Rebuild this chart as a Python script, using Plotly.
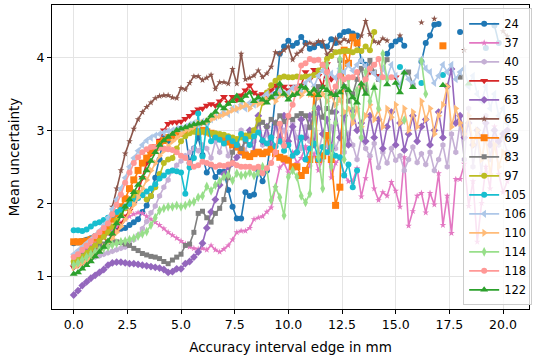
import plotly.graph_objects as go

N = 102
x_edges = [round(0.2 * i, 1) for i in range(N)]

s24 = [1.45,1.46,1.48,1.5,1.52, 1.55,1.57,1.6,1.6,1.62, 1.63,1.65,1.66,1.7,1.74, 1.78,1.88,1.97,2.1,2.35,
       2.6,2.89,2.85,2.9,2.95, 3.02,2.96,2.55,2.75,2.9, 2.66,2.42,2.52,2.36,2.43, 2.43,2.18,1.95,1.79,1.79,
       2.15,2.1,2.12,2.45,2.3, 2.45,2.9,3.5,4.05,4.15, 4.23,4.16,4.2,4.28,4.2, 4.12,4.14,4.2,4.16,4.15,
       4.25,4.2,4.3,4.35,4.36, 4.33,4.3,3.95,3.9,None, None,None,None,4.05,4.16, 4.22,4.25,4.16,None,None,
       None,3.94,4.2,4.3,4.45, 4.46,None,None,None,None, 4.35,None,None,None,None, None,4.13,None,4.44,4.2,
       None,None]
s37 = [1.25,1.29,1.33,1.37,1.41, 1.45,1.49,1.53,1.58,1.63, 1.68,1.73,1.78,1.82,1.85, 1.87,1.86,1.82,1.78,1.74,
       1.7,1.65,1.6,1.56,1.52, 1.48,1.44,1.4,1.38,1.37, 1.38,1.36,1.42,1.36,1.33, 1.37,1.42,1.5,1.6,1.62,
       1.62,1.66,1.78,1.8,1.82, 1.88,1.94,2.22,2.49,2.55, 2.42,2.7,2.55,2.62,2.78, 2.5,2.68,2.45,2.6,2.85,
       2.35,2.55,2.62,2.4,2.3, 2.3,2.48,2.09,2.34,2.63, 2.2,2.04,2.15,2.1,2.29, 2.17,1.95,2.63,1.69,1.89,
       2.1,2.14,1.87,2.14,1.98, 2.41,1.7,2.1,1.59,2.33, 2.33,2.54,1.96,2.3,1.47, 2.0,2.5,2.2,3.05,2.4,
       2.15,2.3]
s40 = [1.12,1.15,1.18,1.21,1.24, 1.26,1.28,1.3,1.32,1.34, 1.36,1.38,1.4,1.45,1.5, 1.56,1.65,1.75,1.87,1.96,
       2.1,2.22,2.32,2.45,2.52, 2.58,2.65,2.7,2.75,2.72, 2.8,2.75,2.62,2.85,2.7, 2.9,2.65,2.87,2.8,3.0,
       2.7,2.95,2.85,3.1,2.8, 2.95,2.75,3.05,2.85,3.0, 2.8,3.1,2.9,2.75,3.05, 2.85,3.0,2.7,2.95,2.8,
       3.05,2.75,2.9,2.7,2.95, 2.8,2.6,2.9,2.75,2.65, 2.82,2.49,2.7,2.55,2.75, 2.59,2.65,2.45,2.6,2.77,
       2.56,2.68,2.53,2.7,2.45, 2.6,2.8,2.5,2.95,2.7, 3.1,2.6,3.3,2.5,2.9, 2.4,3.2,2.6,3.0,2.8,
       2.9,2.7]
s55 = [1.12,1.15,1.18,1.22,1.27, 1.32,1.37,1.42,1.48,1.55, 1.62,1.72,1.82,1.9,2.0, 2.15,2.35,2.55,2.68,2.78,
       2.86,3.0,3.09,3.11,3.11, 3.12,3.16,3.2,3.25,3.29, 3.3,3.34,3.36,3.34,3.4, 3.46,3.38,3.46,3.42,3.48,
       3.55,3.62,3.52,3.48,3.5, 3.48,3.55,3.62,3.58,3.6, 3.55,3.6,3.58,3.62,3.8, 3.7,3.83,3.75,3.6,3.91,
       3.7,None,None,None,None, None,None,None,None,3.8, None,3.75,None,None,None, 3.73]
s63 = [0.74,0.8,0.87,0.92,0.97, 1.01,1.05,1.09,1.15,1.18, 1.19,1.19,1.18,1.17,1.17, 1.16,1.15,1.14,1.13,1.12,
       1.11,1.09,1.05,1.06,1.1, 1.1,1.17,1.2,1.26,1.33, 1.45,1.66,1.88,2.05,2.25, 2.4,2.5,2.55,2.63,2.7,
       2.9,3.0,2.7,3.2,2.85, 3.05,2.75,3.1,2.9,3.2, 2.85,3.05,2.7,3.15,2.9, 3.2,2.8,3.3,2.95,3.15,
       2.75,3.25,2.9,3.2,2.8, 3.27,3.0,3.1,2.85,3.2, 2.9,3.15,2.75,3.05,3.25, 2.8,3.1,2.73,2.95,3.2,
       2.85,3.05,3.15,2.8,3.0, 3.25,2.9,3.6,3.84,3.1, 3.2,2.9,3.1,2.8,3.0, 2.9,3.1,2.8,3.0,2.85,
       2.95,3.0]
s65 = [1.15,1.18,1.22,1.27,1.32, 1.38,1.45,1.55,1.7,1.95, 2.2,2.45,2.68,2.85,3.02, 3.15,3.25,3.32,3.38,3.44,
       3.47,3.48,3.48,3.45,3.44, 3.58,3.56,3.65,3.74,3.74, 3.69,3.72,3.76,3.57,3.66, 3.66,3.64,3.84,3.64,4.05,
       3.7,3.72,3.75,3.82,3.73, 3.78,3.87,4.07,4.05,4.1, 4.15,3.97,4.05,4.09,4.18, 4.2,4.18,4.22,4.22,4.04,
       4.1,4.26,4.2,4.25,4.22, 4.25,4.18,4.3,4.5,4.32, 4.22,4.2,4.26,4.23,None, None,4.3,None,None,None,
       None,4.48,None,None,4.53, None,None,None,None,None, None,4.1,None,None,None, None,None,None,None,None,
       4.36,4.29]
s69 = [1.47,1.47,1.47,1.48,1.5, 1.52,1.56,1.6,1.68,1.78, 1.85,1.95,2.06,2.2,2.32, 2.45,2.55,2.62,2.7,2.76,
       2.82,2.86,2.9,2.92,2.95, 2.96,2.98,3.0,3.0,2.98, 3.0,2.98,2.96,2.92,2.91, 2.88,2.84,2.8,2.77,2.72,
       2.66,2.64,2.68,2.7,2.68, 2.7,2.74,2.68,2.63,2.61, 2.59,2.5,2.5,2.38,2.45, 2.6,3.5,2.6,2.65,2.93,
       2.6,1.97,2.22,4.1,3.92, 4.28,4.2,None,None,None, None,None,None,None,None, None,None,None,None,None,
       None,None,None,None,None, None,4.16]
s83 = [1.17,1.22,1.28,1.33,1.38, 1.41,1.43,1.44,1.46,1.47, 1.47,1.46,1.44,1.42,1.38, 1.35,1.31,1.29,1.27,1.26,
       1.24,1.2,1.17,1.22,1.26, 1.3,1.42,1.44,1.6,1.86, 1.89,1.8,1.74,1.86,1.93, 2.05,2.35,2.7,2.86,2.75,
       2.85,2.95,3.0,3.09,3.11, 3.05,3.15,3.1,3.2,3.12, 3.18,3.15,3.2,3.23,3.2, 3.04,3.23,3.6,3.18,3.3,
       3.25,3.5,3.96,3.6,3.4, 3.5,3.7,3.85,3.55,3.96, 3.8,3.7,3.85,3.97,None, None,None,None,3.8,3.62,
       None,None,None,None,None, None,None,None,None,None, 3.73]
s97 = [1.2,1.23,1.27,1.32,1.37, 1.42,1.48,1.54,1.6,1.68, 1.76,1.85,1.93,2.02,2.1, 2.14,2.12,2.05,2.1,2.22,
       2.4,2.55,2.6,2.62,2.75, 2.85,2.92,2.96,2.98,2.98, 2.98,2.97,2.96,2.96,2.95, 2.94,2.92,2.9,2.88,2.9,
       2.93,2.92,3.0,3.15,3.38, 3.52,3.62,3.68,3.72,3.74, 3.73,3.73,3.74,3.73,3.74, 3.74,3.76,3.82,3.9,3.98,
       4.02,4.07,4.08,4.09,4.09, 4.07,4.1,4.09,4.15,4.1, 4.35]
s105 = [1.63,1.63,1.62,1.64,1.68, 1.72,1.74,1.77,1.8,1.84, 1.88,1.91,1.95,1.99,2.03, 2.07,2.11,2.16,2.2,2.26,
        2.34,2.38,2.43,2.45,2.44, 2.42,2.13,2.49,2.62,3.23, 2.64,3.1,2.85,2.9,2.87, 2.82,2.9,2.85,2.8,2.95,
        2.88,2.8,2.92,2.97,2.86, 2.82,2.9,2.78,2.85,2.72, 2.8,2.65,2.7,2.9,2.6, 2.75,2.82,2.6,2.77,2.7,
        2.77,2.65,2.63,2.38,2.53, 2.22,2.45,None,None,None, None,None,None,None,None, None,3.87,None,None,None,
        None,3.65,None,None,None, None,3.76]
s106 = [1.3,1.35,1.4,1.45,1.5, 1.56,1.62,1.7,1.8,1.92, 2.05,2.2,2.35,2.5,2.62, 2.72,2.8,2.86,2.9,2.93,
        2.95,2.97,2.99,3.0,3.02, 3.02,3.05,3.08,3.1,3.08, 3.12,3.1,3.15,3.18,3.2, 3.25,3.22,3.3,3.28,3.35,
        3.3,3.38,3.35,3.42,3.45, 3.5,3.48,3.45,3.55,3.5, 3.52,3.58,3.6,3.55,3.65, 3.7,3.6,3.75,3.82,3.7,
        3.78,3.72,3.85,3.8,3.9, 3.82,3.9,3.96,3.88,3.83, 3.78,3.7,3.85,3.72,3.9, 3.75,3.62,3.8,3.7,3.65,
        3.75,3.98,3.85,3.8,3.65, 3.75,3.9,3.8,3.9,3.7, 3.8,3.85,3.6,3.75,3.5, 3.4,3.6,3.3,3.5,3.2,
        3.3,3.1]
s110 = [1.12,1.15,1.18,1.22,1.26, 1.3,1.35,1.4,1.46,1.52, 1.6,1.68,1.78,1.88,1.98, 2.08,2.2,2.32,2.45,2.55,
        2.65,2.72,2.78,2.85,2.9, 2.95,3.0,3.02,3.05,3.1, 3.1,3.12,3.15,3.18,3.2, 3.22,3.25,3.28,3.3,3.32,
        3.35,3.3,3.38,3.36,3.4, 3.42,3.45,3.4,3.48,3.5, 3.45,3.5,3.52,3.48,3.55, 3.5,3.55,3.45,3.5,3.4,
        3.48,3.35,3.42,3.25,3.3, 3.1,3.3,3.05,3.2,3.35, 3.15,3.28,3.05,3.3,3.18, 3.35,3.1,3.3,3.0,3.25,
        3.05,3.4,3.15,3.3,2.95, 3.2,3.35,3.6,3.05,3.3, 3.1,2.95,3.2,2.8,3.0, 2.6,2.9,2.4,2.8,2.5,
        2.7,2.6]
s114 = [1.15,1.18,1.22,1.26,1.3, 1.33,1.36,1.38,1.4,1.43, 1.45,1.47,1.48,1.5,1.52, 1.55,1.58,1.61,1.7,1.8,
        1.9,1.93,1.95,1.95,1.97, 1.95,1.97,2.0,2.02,2.08, 2.1,2.23,2.17,2.25,2.3, 2.36,2.39,2.31,2.41,2.38,
        2.39,2.42,2.38,2.42,2.5, 2.47,2.04,2.22,2.08,1.83, 2.36,2.45,2.36,2.1,2.01, 2.13,3.3,2.63,2.2,3.9,
        2.5,3.1,3.98,2.6,3.7, 3.2,3.55,2.9,3.8,3.4, 3.6,3.3,4.05,3.7,None, None,None,3.14,None,None,
        None,3.95,3.5]
s118 = [1.26,1.3,1.36,1.42,1.48, 1.55,1.6,1.66,1.72,1.85, 1.98,2.12,2.28,2.42,2.55, 2.63,2.7,2.74,2.77,2.77,
        2.76,2.75,2.74,2.73,2.7, 2.65,2.62,2.55,2.5,2.52, 2.57,2.55,2.53,2.5,2.52, 2.51,2.53,2.55,2.52,2.5,
        2.5,2.5,2.48,2.5,2.41, 2.48,2.55,2.7,3.09,2.79, 3.2,3.35,3.57,3.89,3.92, 3.98,3.96,3.97,3.9,3.8,
        3.52,3.6,3.75,3.7,3.73, 3.73,3.8,3.6,3.7,3.85, 3.9,3.98,3.73,None,3.73]
s122 = [1.03,1.05,1.1,1.15,1.2, 1.27,1.33,1.4,1.48,1.58, 1.72,1.82,1.95,2.05,2.15, 2.25,2.35,2.45,2.58,2.7,
        2.8,2.86,2.91,2.95,3.0, 3.02,3.04,3.06,3.08,3.09, 3.1,3.13,3.2,3.25,3.34, 3.3,3.36,3.4,3.47,3.41,
        3.47,3.52,3.4,3.45,3.42, 3.38,3.45,3.5,3.64,3.5, 3.42,3.48,3.5,3.6,3.58, 3.5,3.56,3.48,3.59,3.55,
        3.5,3.48,3.52,3.6,3.55, 3.45,3.38,3.64,3.5,None, 3.58,None,None,3.63,None, 3.65,3.52,3.79,None,3.59,
        None,None,None,None,None, None,3.62,None,None,None, None,None,3.64]

labels = ["24", "37", "40", "55", "63", "65", "69", "83", "97", "105", "106", "110", "114", "118", "122"]
values = [s24, s37, s40, s55, s63, s65, s69, s83, s97, s105, s106, s110, s114, s118, s122]
colors = ["#1f77b4", "#e377c2", "#c5b0d5", "#d62728", "#9467bd", "#8c564b", "#ff7f0e", "#7f7f7f",
          "#bcbd22", "#17becf", "#aec7e8", "#ffbb78", "#98df8a", "#ff9896", "#2ca02c"]
symbols = ["circle", "star", "hexagon", "triangle-down", "diamond", "star", "square", "square",
           "circle", "circle", "triangle-left", "triangle-right", "diamond-tall", "circle", "triangle-up"]
sizes = [6, 5, 6, 7, 6, 5, 7, 5, 6, 6, 7, 7, 7, 6, 7]


def pad(v):
    return list(v) + [None] * (N - len(v))


fig = go.Figure()
for lab, vals, col, sym, sz in zip(labels, values, colors, symbols, sizes):
    fig.add_trace(go.Scatter(
        x=x_edges, y=pad(vals), mode="lines+markers", name=lab,
        line=dict(color=col, width=1.6),
        marker=dict(symbol=sym, size=sz, color=col, line=dict(width=0)),
    ))

axis_common = dict(
    showline=True, linecolor="black", linewidth=1, mirror=True,
    ticks="outside", ticklen=4, tickcolor="black",
    showgrid=True, gridcolor="#e4e4e4", gridwidth=1, zeroline=False,
    tickfont=dict(size=12.5, color="black"), automargin=False,
)

xt = [0, 2.5, 5, 7.5, 10, 12.5, 15, 17.5, 20]
fig.update_layout(
    width=534, height=362,
    margin=dict(l=52, r=5, t=5, b=53, autoexpand=False),
    plot_bgcolor="white", paper_bgcolor="white",
    font=dict(family="DejaVu Sans", color="black"),
    xaxis=dict(range=[-1.01, 21.21], tickvals=xt, ticktext=[f"{v:.1f}" for v in xt],
               title=dict(text="Accuracy interval edge in mm", font=dict(size=13.5), standoff=11),
               **axis_common),
    yaxis=dict(range=[0.548, 4.72], tickvals=[1, 2, 3, 4], ticktext=["1", "2", "3", "4"],
               title=dict(text="Mean uncertainty", font=dict(size=13.5), standoff=13),
               **axis_common),
    legend=dict(x=0.862, y=0.012, xanchor="left", yanchor="bottom",
                bgcolor="rgba(255,255,255,0.8)", bordercolor="#cccccc", borderwidth=1,
                font=dict(size=11.5), itemwidth=30, tracegroupgap=0),
    showlegend=True,
)

fig.write_html("out.html", config={"displayModeBar": False},
               post_script="document.body.style.margin='0px';document.body.style.overflow='hidden';")
